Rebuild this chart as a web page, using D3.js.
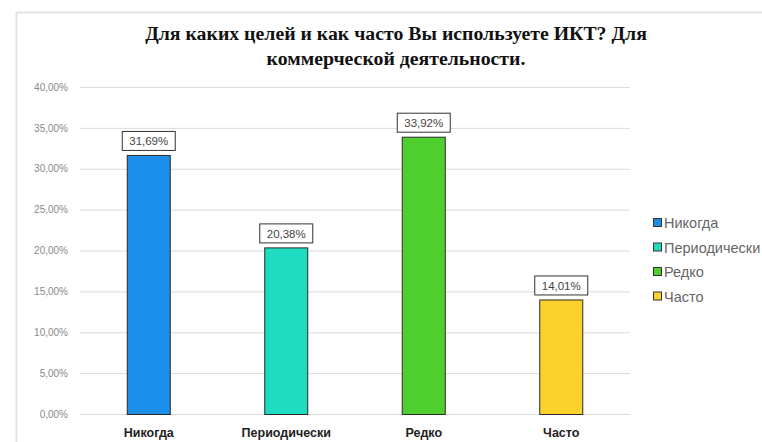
<!DOCTYPE html>
<html><head><meta charset="utf-8">
<script src="https://cdn.jsdelivr.net/npm/d3@7"></script>
<style>body{margin:0;background:#fff;}svg{display:block;}</style>
</head><body>
<svg id="c" width="762" height="442"></svg>
<script>
const titleLines = ["Для каких целей и как часто Вы используете ИКТ? Для", "коммерческой деятельности."];
const categories = ["Никогда", "Периодически", "Редко", "Часто"];
const values = [31.69, 20.38, 33.92, 14.01];
const valueLabels = ["31,69%", "20,38%", "33,92%", "14,01%"];
const colors = ["#1a8ee8", "#1fdcc0", "#4ecf2d", "#fbd22c"];
const yTicks = [0, 5, 10, 15, 20, 25, 30, 35, 40];
const yTickLabels = ["0,00%", "5,00%", "10,00%", "15,00%", "20,00%", "25,00%", "30,00%", "35,00%", "40,00%"];

const SANS = "'Liberation Sans', Arial, sans-serif";
const SERIF = "'Liberation Serif', 'DejaVu Serif', 'Times New Roman', serif";
const svg = d3.select("#c");
// frame
svg.append("path").attr("d", "M16.5,442 V12.5 H762").attr("fill", "none").attr("stroke", "#e4e4e4").attr("stroke-width", 2);

const x = d3.scaleBand().domain(categories).range([80, 630]).paddingInner(0.68).paddingOuter(0.34);
const y = d3.scaleLinear().domain([0, 40]).range([414, 87]);

// grid
svg.append("g").selectAll("line").data(yTicks).join("line")
  .attr("x1", 80).attr("x2", 630)
  .attr("y1", d => y(d) + 0.5).attr("y2", d => y(d) + 0.5)
  .attr("stroke", "#dcdcdc").attr("stroke-width", 1);

// y axis
const yAxis = d3.axisLeft(y).tickValues(yTicks).tickSize(0).tickPadding(0)
  .tickFormat((d, i) => yTickLabels[i]);
const ya = svg.append("g").attr("transform", "translate(68,0)").call(yAxis);
ya.select(".domain").remove();
ya.selectAll("text").style("font-family", SANS).attr("font-size", 10).attr("fill", "#8a8a8a");

// bars
svg.append("g").selectAll("rect").data(values).join("rect")
  .attr("x", (d, i) => x(categories[i]) + 0.5)
  .attr("y", d => y(d) + 0.5)
  .attr("width", x.bandwidth() - 1)
  .attr("height", d => y(0) - y(d))
  .attr("fill", (d, i) => colors[i])
  .attr("stroke", "#2a2a2a").attr("stroke-width", 1);

// value labels
const lg = svg.append("g");
values.forEach((v, i) => {
  const cx = x(categories[i]) + x.bandwidth() / 2;
  const yy = y(v);
  lg.append("rect").attr("x", cx - 26.5).attr("y", yy - 23.5).attr("width", 53).attr("height", 19)
    .attr("fill", "#fff").attr("stroke", "#333").attr("stroke-width", 1);
  lg.append("text").attr("x", cx).attr("y", yy - 9.5).attr("text-anchor", "middle")
    .style("font-family", SANS).attr("font-size", 11.5).attr("fill", "#444")
    .text(valueLabels[i]);
});

// x axis
const xAxis = d3.axisBottom(x).tickSize(0).tickPadding(0);
const xa = svg.append("g").attr("transform", "translate(0,428)").call(xAxis);
xa.select(".domain").remove();
xa.selectAll("text").style("font-family", SANS).attr("font-size", 12.5)
  .attr("font-weight", "bold").attr("fill", "#222").attr("dy", "0.71em");

// title
const tt = svg.append("g").selectAll("text").data(titleLines).join("text")
  .attr("x", 396).attr("y", (d, i) => 40 + i * 24.5).attr("text-anchor", "middle")
  .style("font-family", SERIF).style("font-weight", "bold")
  .style("font-size", "18px").attr("fill", "#111").text(d => d);
const w0 = tt.nodes()[0].getComputedTextLength();
if (w0 > 0) tt.style("font-size", (18 * 502 / w0) + "px");

// legend
const leg = svg.append("g");
categories.forEach((c, i) => {
  const yy = 223 + i * 24.5;
  leg.append("rect").attr("x", 653.5).attr("y", yy - 4.5).attr("width", 8).attr("height", 8)
    .attr("fill", colors[i]).attr("stroke", "#333").attr("stroke-width", 1);
  leg.append("text").attr("x", 664).attr("y", yy + 5).style("font-family", SANS)
    .attr("font-size", 14.5).attr("fill", "#666").text(c);
});
</script>
</body></html>
